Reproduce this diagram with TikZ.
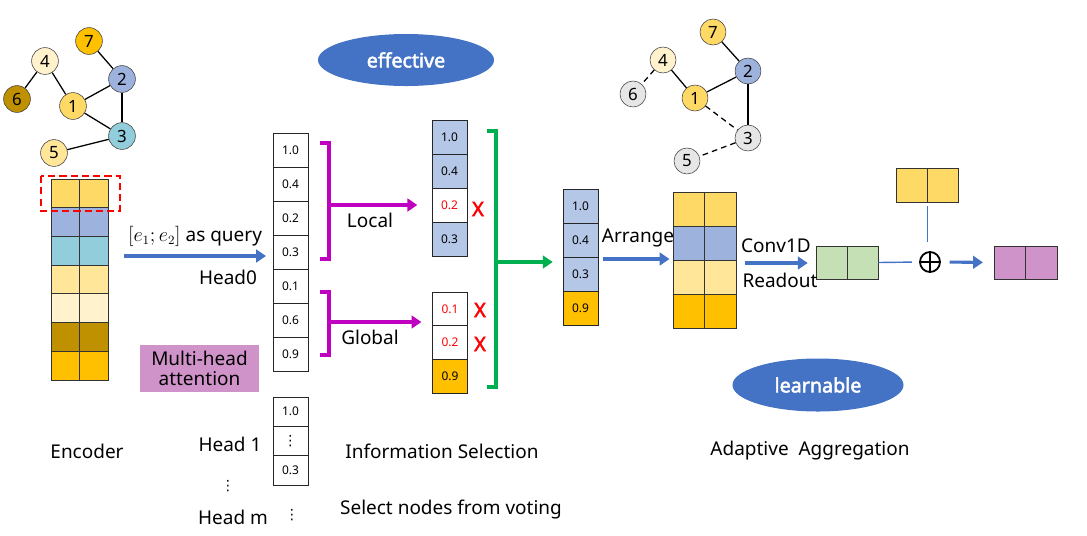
\documentclass[tikz,border=0pt]{standalone}
\usepackage{fontspec}
\setmainfont{Noto Sans}
\newfontfamily\heavyfont{Noto Sans}[FakeBold=2.5]
\newfontfamily\dotsfont{DejaVu Sans}
\usetikzlibrary{arrows.meta,shapes.geometric}
\definecolor{cYel}{HTML}{FFD966}
\definecolor{cBlu}{HTML}{9DB3DE}
\definecolor{cTeal}{HTML}{92CDDC}
\definecolor{cLY}{HTML}{FFE699}
\definecolor{cCr}{HTML}{FFF2CC}
\definecolor{cDk}{HTML}{BF9000}
\definecolor{cOr}{HTML}{FFC000}
\definecolor{cLB}{HTML}{B4C7E7}
\definecolor{cGr}{HTML}{C5E0B4}
\definecolor{cPink}{HTML}{D093C9}
\definecolor{cGray}{HTML}{E6E6E6}
\definecolor{cArr}{HTML}{4472C4}
\definecolor{cMag}{HTML}{C000C0}
\definecolor{cGrn}{HTML}{00B050}

\begin{document}
\begin{tikzpicture}[x=0.025cm,y=-0.025cm,
    gnode/.style={draw=black!75,circle,minimum size=0.67cm,inner sep=0pt,font=\fontsize{12}{13}\selectfont},
    gedge/.style={line width=0.9pt},
    enc/.style={draw=black!80,minimum width=0.7125cm,minimum height=0.7175cm,inner sep=0pt},
    cell/.style={draw=black!85,minimum width=0.875cm,minimum height=0.85cm,inner sep=0pt,font=\fontsize{8.5}{9}\selectfont},
    half/.style={draw=black!80,minimum width=0.7875cm,minimum height=0.85cm,inner sep=0pt},
    lab/.style={font=\fontsize{13.5}{16}\selectfont},
    vdot/.style={inner sep=0pt,font=\fontsize{10}{10}\dotsfont},
    barrow/.style={draw=cArr,line width=2.2pt,-{Triangle[length=7pt,width=9pt]}},
    marrow/.style={draw=cMag,line width=2.2pt,-{Triangle[length=7pt,width=9pt]}},
    garrow/.style={draw=cGrn,line width=2.2pt,-{Triangle[length=7pt,width=9pt]}},
    xmark/.style={text=red,font=\fontsize{14}{15}\heavyfont},
    oval/.style={ellipse,fill=cArr,text=white,inner sep=0pt,font=\fontsize{14}{15}\heavyfont}]
  \useasboundingbox (0,0) rectangle (1087,535);

  % graph before selection
  \foreach \n/\x/\y/\c in {7/89/41/cOr,4/45/61/cCr,2/122/79/cBlu,6/17/99/cDk,1/73/106/cYel,3/122/136/cTeal,5/54/153/cLY}
    \node[gnode,fill=\c] (a\n) at (\x,\y) {\n};
  \foreach \s/\t in {7/2,4/6,4/1,1/2,2/3,1/3,5/3}
    \draw[gedge] (a\s) -- (a\t);

  % encoder
  \foreach \c [count=\i] in {cYel,cBlu,cTeal,cLY,cCr,cDk,cOr} {
    \node[enc,fill=\c] (enc-\i-a) at (65.25,164.6+28.7*\i) {};
    \node[enc,fill=\c] (enc-\i-b) at (93.75,164.6+28.7*\i) {};
  }
  \draw[red,line width=1.2pt,dash pattern=on 5pt off 3pt] (41,176) rectangle (120,211);

  \coordinate (q0) at (124,256);
  \coordinate (q1) at (266,256);
  \draw[barrow] (q0) -- (q1);
  \node[lab] (qlab) at (195,236) {$[e_1;e_2]$ as query};
  \node[lab] (h0lab) at (228,277) {Head0};
  \node[lab,fill=cPink,minimum width=2.975cm,minimum height=1.175cm,align=center,inner sep=0pt] (mha) at (199.5,368.5) {Multi-head\\[-2pt]attention};

  % heads
  \foreach \v [count=\i] in {1.0,0.4,0.2,0.3,0.1,0.6,0.9}
    \node[cell] (h0-\i) at (290.5,116+34*\i) {\v};
  \node[cell,minimum height=0.733cm] (h1-1) at (290.5,411.67) {1.0};
  \node[cell,minimum height=0.733cm] (h1-2) at (290.5,441) {};
  \node[cell,minimum height=0.733cm] (h1-3) at (290.5,470.33) {0.3};
  \node[vdot] (h1dots) at (h1-2) {⋮};
  \node[lab] (h1lab) at (230,444) {Head 1};
  \node[vdot] (hdots) at (228,486) {⋮};
  \node[lab] (hmlab) at (233,517) {Head m};
  \node[vdot] (hmdots) at (292,515) {⋮};

  % selection
  \draw[cMag,line width=2.2pt] (320,143) -- (329,143) -- (329,259) -- (320,259);
  \draw[cMag,line width=2.2pt] (320,292) -- (329,292) -- (329,355) -- (320,355);
  \coordinate (lb) at (329,205);
  \coordinate (gb) at (329,322);
  \foreach \v/\c/\t [count=\i] in {1.0/cLB/black,0.4/cLB/black,0.2/white/red,0.3/cLB/black}
    \node[cell,fill=\c,text=\t] (loc-\i) at (449.5,103+34*\i) {\v};
  \foreach \v/\c/\t [count=\i] in {0.1/white/red,0.2/white/red,0.9/cOr/black}
    \node[cell,fill=\c,text=\t,minimum height=0.842cm] (glob-\i) at (450,275.17+33.67*\i) {\v};
  \draw[marrow,shorten >=0.36cm] (lb) -- (lb -| loc-3.west);
  \draw[marrow,shorten >=0.27cm] (gb) -- (gb -| glob-1.west);
  \node[lab] (loclab) at (370,220) {Local};
  \node[lab] (globlab) at (370,337) {Global};
  \node[xmark] (x1) at (478,209) {X};
  \node[xmark] (x2) at (480,310) {X};
  \node[xmark] (x3) at (480,344) {X};

  \draw[cGrn,line width=2.2pt] (487,131) -- (496,131) -- (496,387) -- (487,387);
  \coordinate (gm) at (496,262);
  \foreach \v/\c [count=\i] in {1.0/cLB,0.4/cLB,0.3/cLB,0.9/cOr}
    \node[cell,fill=\c] (sel-\i) at (580.5,172+34*\i) {\v};
  \draw[garrow,shorten >=0.25cm] (gm) -- (gm -| sel-3.west);

  % aggregation
  \foreach \c [count=\i] in {cYel,cBlu,cLY,cOr} {
    \node[half,fill=\c] (arr-\i-a) at (688.75,175+34*\i) {};
    \node[half,fill=\c] (arr-\i-b) at (720.25,175+34*\i) {};
  }
  \coordinate (ar0) at (603,259);
  \draw[barrow,shorten >=0.08cm] (ar0) -- (ar0 -| arr-2-a.west);
  \node[lab] (arlab) at (638,238) {Arrange};

  \node[half,fill=cGr,minimum width=0.775cm,minimum height=0.825cm] (ro-a) at (831.5,262.5) {};
  \node[half,fill=cGr,minimum width=0.775cm,minimum height=0.825cm] (ro-b) at (862.5,262.5) {};
  \coordinate (cv0) at (745,263);
  \draw[barrow,shorten >=0.2cm] (cv0) -- (cv0 -| ro-a.west);
  \node[lab] (cvlab) at (776,246) {Conv1D};
  \node[lab] (rdlab) at (780,280) {Readout};

  \node[half,fill=cYel,minimum width=0.775cm,minimum height=0.85cm] (self-a) at (911.5,185) {};
  \node[half,fill=cYel,minimum width=0.775cm,minimum height=0.85cm] (self-b) at (942.5,185) {};
  \node[draw,circle,minimum size=0.5cm,line width=1.3pt] (sum) at (930,262) {};
  \draw[line width=1.3pt] (sum.north) -- (sum.south) (sum.west) -- (sum.east);
  \draw[cArr,line width=1pt,shorten >=0.18cm] (ro-b.east) -- (sum.west);
  \draw[cArr,line width=1pt,shorten <=0.1cm,shorten >=0.22cm] (self-a.south east) -- (self-a.south east |- sum.north);
  \node[half,fill=cPink,minimum width=0.7875cm,minimum height=0.825cm] (fin-a) at (1009.75,262.5) {};
  \node[half,fill=cPink,minimum width=0.7875cm,minimum height=0.825cm] (fin-b) at (1041.25,262.5) {};
  \draw[barrow,shorten <=0.22cm,shorten >=0.27cm] (sum.east) -- (fin-a.west);

  % graph after selection
  \foreach \n/\x/\y/\c in {7/713/32/cYel,4/663/60/cCr,2/748/71/cBlu,6/633/94/cGray,1/695/98/cYel,3/748/138/cGray,5/687/161/cGray}
    \node[gnode,minimum size=0.65cm,fill=\c] (b\n) at (\x,\y) {\n};
  \foreach \s/\t in {7/2,4/1,1/2,2/3}
    \draw[gedge] (b\s) -- (b\t);
  \foreach \s/\t in {4/6,1/3,3/5}
    \draw[gedge,dash pattern=on 4pt off 3pt] (b\s) -- (b\t);

  \node[oval,minimum width=4.4cm,minimum height=1.3cm] (eff) at (406,60) {effective};
  \node[oval,minimum width=4.275cm,minimum height=1.325cm] (lrn) at (818,385) {learnable};

  \node[lab] (enclab) at (87,451) {Encoder};
  \node[lab] (sellab) at (442,451) {Information Selection};
  \node[lab] (votlab) at (451,510) {Select nodes from voting};
  \node[lab] (agglab) at (810,451) {Adaptive\ \ Aggregation};
\end{tikzpicture}
\end{document}
